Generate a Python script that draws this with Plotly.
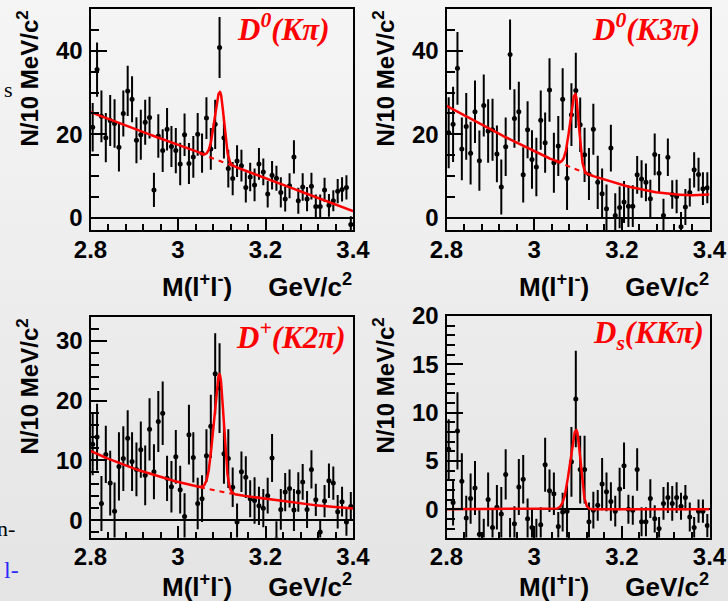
import base64
import numpy as np
import plotly.graph_objects as go

# ---------------- data (10 MeV bins, 2.8 - 3.4 GeV/c^2) ----------------
mass = [round(2.805 + 0.01 * i, 3) for i in range(60)]

n_kpi = [21.7, 35.5, 24.3, 19.2, 23.3, 22.6, 16.9, 25.0, 30.4, 28.4,
         18.6, 19.9, 22.9, 24.0, 6.7, 19.6, 16.1, 21.2, 17.1, 16.1,
         12.9, 19.9, 13.0, 14.6, 20.0, 15.5, 23.9, 16.5, 22.4, 40.8,
         19.2, 11.8, 9.4, 13.6, 12.5, 7.3, 9.8, 7.9, 12.9, 11.0,
         5.7, 10.2, 9.5, 6.1, 4.5, 7.7, 14.6, 4.1, 7.4, 4.5,
         7.6, 2.7, 2.7, 6.7, 3.0, 4.1, 6.4, 6.8, 7.3, -1.6]
e_kpi = [5.8, 6.5, 6.2, 5.9, 6.1, 5.8, 5.8, 5.5, 6.0, 5.5,
         5.5, 6.0, 5.4, 5.0, 4.1, 5.2, 5.1, 5.1, 4.9, 5.4,
         5.1, 5.1, 4.9, 5.0, 5.1, 4.7, 5.0, 5.0, 5.9, 7.3,
         5.0, 4.5, 4.0, 3.8, 3.8, 3.6, 3.4, 3.9, 3.8, 3.2,
         3.2, 3.4, 3.0, 3.6, 3.0, 3.0, 4.0, 3.1, 3.3, 2.9,
         3.2, 2.9, 2.9, 2.9, 2.7, 2.5, 2.9, 2.9, 2.9, 2.0]

n_k3pi = [20.4, 22.4, 35.8, 16.5, 21.9, 15.5, 25.4, 13.7, 26.9, 20.8,
          21.1, 15.3, 7.4, 17.0, 39.1, 23.8, 25.4, 10.3, 21.1, 14.0,
          12.2, 23.4, 18.0, 30.6, 13.2, 17.2, 28.4, 9.5, 24.7, 30.5,
          22.3, 15.1, 10.5, 21.2, 8.5, 5.8, 2.2, 16.7, 0.6, 2.5,
          3.8, 2.8, 2.8, 10.3, 9.3, 8.5, 4.6, 15.2, 10.7, 0.6,
          14.5, 5.6, 5.1, -2.1, 2.6, 6.1, 11.5, 10.4, 7.0, 7.2]
e_k3pi = [8.5, 9.0, 8.7, 7.5, 8.0, 7.5, 7.5, 7.2, 7.4, 7.6,
          7.4, 6.8, 6.6, 7.0, 8.4, 7.0, 7.2, 6.6, 6.8, 7.0,
          7.0, 7.1, 7.2, 7.6, 7.2, 7.2, 7.4, 7.6, 7.5, 9.0,
          6.5, 6.5, 6.2, 6.1, 6.4, 6.0, 5.8, 5.6, 5.3, 5.0,
          5.0, 5.0, 5.0, 4.5, 4.5, 4.5, 4.5, 5.0, 4.6, 4.0,
          4.5, 3.4, 4.0, 3.5, 4.3, 3.4, 4.2, 4.0, 3.9, 3.7]

n_k2pi = [12.7, 13.9, 2.8, 11.0, 6.2, 1.5, 9.0, 10.3, 13.7, 9.8,
          8.5, 11.8, 7.5, 15.2, 8.1, 16.5, 17.9, 7.0, 5.6, 10.6,
          5.1, 0.6, 14.3, 10.5, 2.8, 3.6, 10.8, 15.7, 24.5, 22.1,
          11.1, 10.3, 5.5, -0.3, 8.1, 7.2, 3.6, 3.3, 2.4, 2.0,
          4.1, 10.4, -3.2, 1.8, 4.7, 5.3, 1.7, 4.7, 6.4, 1.8,
          8.5, 3.4, -2.0, 3.2, 6.6, 6.2, 1.4, 3.1, -0.3, 2.3]
e_k2pi = [5.2, 5.6, 4.6, 4.8, 5.4, 4.8, 5.7, 5.4, 4.7, 4.9,
          4.5, 4.7, 5.0, 5.2, 4.6, 5.1, 5.3, 3.8, 4.3, 4.5,
          4.0, 3.9, 5.0, 4.2, 4.3, 3.9, 4.4, 5.3, 6.8, 7.5,
          5.0, 4.9, 3.3, 3.1, 3.4, 3.5, 3.1, 3.9, 3.2, 3.2,
          3.0, 4.0, 3.0, 3.4, 3.2, 3.2, 3.5, 3.3, 3.0, 3.1,
          3.2, 2.7, 2.0, 2.7, 2.9, 2.8, 2.8, 2.5, 2.3, 2.4]

n_kkpi = [6.2, 0.7, 8.1, 2.9, -0.9, 1.1, 2.2, -2.6, -3.3, 1.0,
          -1.9, 0.2, -0.5, 3.6, -3.3, -1.5, 2.3, 3.1, -1.0, -1.9,
          -3.2, -1.6, 4.6, 1.9, 1.6, -1.8, -0.3, -0.2, 4.9, 11.4,
          4.1, 4.1, -1.3, -0.1, 0.4, 2.6, 1.8, 0.8, -0.2, 2.1,
          4.5, 0.0, -0.1, 4.1, -1.3, -1.3, 1.1, -1.0, -2.0, 0.6,
          1.2, 0.6, 1.2, 0.3, 1.2, -0.8, -1.9, -0.2, -0.2, -1.7]
e_kkpi = [3.1, 2.4, 4.0, 2.9, 2.3, 2.6, 2.8, 2.5, 2.3, 2.8,
          2.0, 2.3, 2.8, 2.6, 2.4, 1.8, 2.9, 2.5, 2.1, 2.0,
          2.2, 1.8, 2.8, 2.2, 2.2, 1.5, 2.0, 2.9, 3.6, 5.0,
          3.5, 3.5, 2.0, 1.9, 1.6, 2.7, 2.0, 2.0, 1.6, 2.2,
          2.4, 1.5, 1.5, 2.2, 1.5, 1.5, 2.0, 1.4, 1.2, 1.7,
          1.6, 1.8, 1.6, 1.4, 1.3, 1.5, 1.1, 1.2, 1.2, 1.2]

# fit parameters: background polynomial in (m - 2.8) / exponential, J/psi peak
bkg_kpi = [25.3, -39.5]
bkg_k3pi = [26.8, -56.4, -2.0, 61.8]
bkg_k2pi_exp = [11.6, -2.98]
bkg_kkpi = [0.0]
# peak: amplitude, mean, sigma_left, sigma_right
peak_kpi = [16.5, 3.096, 0.012, 0.009]
peak_k3pi = [18.0, 3.094, 0.012, 0.008]
peak_k2pi = [19.6, 3.095, 0.013, 0.0095]
peak_kkpi = [8.2, 3.096, 0.014, 0.0095]

titles = ["D<sup>0</sup>(Kπ)", "D<sup>0</sup>(K3π)", "D<sup>+</sup>(K2π)", "D<sub>s</sub>(KKπ)"]
y_ranges = [[-2.9, 50], [-2.9, 50], [-2.9, 34], [-2.93, 20]]
y_dticks = [20, 20, 10, 5]
y_minor = [5, 5, 2, 1]

# ---------------- helpers ----------------
W, H = 728, 601
def px(x):
    return x / W
def py(y):
    return 1 - y / H

xf = np.linspace(2.8, 3.4, 1201)
t = xf - 2.8

def poly(c):
    return sum(ci * t ** i for i, ci in enumerate(c))

def peak(p):
    a, mu, sl, sr = p
    s = np.where(xf < mu, sl, sr)
    return a * np.exp(-0.5 * ((xf - mu) / s) ** 2)

bkgs = [poly(bkg_kpi), poly(bkg_k3pi),
        bkg_k2pi_exp[0] * np.exp(bkg_k2pi_exp[1] * t), poly(bkg_kkpi) + 0 * t]
peaks = [peak(peak_kpi), peak(peak_k3pi), peak(peak_k2pi), peak(peak_kkpi)]
data = [(n_kpi, e_kpi), (n_k3pi, e_k3pi), (n_k2pi, e_k2pi), (n_kkpi, e_kkpi)]

# panel frames in pixels (left, right, top, bottom)
frames = [(90.5, 353, 9, 230), (446.5, 709.5, 9, 230),
          (90.5, 353, 317, 537.5), (446.5, 709.5, 316, 537.5)]
title_right = [331, 702, 348, 706]
xtitle_y = [285.5, 285.5, 585.5, 585.5]

fig = go.Figure()
layout = {}
annotations = []
dash_mask = (xf >= 3.05) & (xf <= 3.125)

for k in range(4):
    ax = "" if k == 0 else str(k + 1)
    xa, ya = "x" + ax, "y" + ax
    l, r, tp, b = frames[k]
    vals, errs = data[k]
    fig.add_trace(go.Scatter(
        x=mass, y=vals, mode="markers", xaxis=xa, yaxis=ya,
        marker=dict(color="black", size=5),
        error_y=dict(type="data", array=errs, visible=True, color="black",
                     thickness=2, width=0),
        showlegend=False))
    total = bkgs[k] + peaks[k]
    fig.add_trace(go.Scatter(x=xf, y=total, mode="lines", xaxis=xa, yaxis=ya,
                             line=dict(color="red", width=2.5), showlegend=False))
    if k < 3:
        fig.add_trace(go.Scatter(x=xf[dash_mask], y=bkgs[k][dash_mask], mode="lines",
                                 xaxis=xa, yaxis=ya,
                                 line=dict(color="red", width=2, dash="5px,5px"),
                                 showlegend=False))
    layout["xaxis" + ax] = dict(
        domain=[px(l), px(r)], anchor=ya, range=[2.8, 3.4], automargin=False,
        tick0=2.8, dtick=0.2, ticks="inside", ticklen=12, tickwidth=1.5,
        tickcolor="black", showline=True, linecolor="black", linewidth=2,
        mirror=True, showgrid=False, zeroline=False,
        tickfont=dict(family="Liberation Sans", size=24, color="black", weight="bold"),
        ticklabelstandoff=-3,
        minor=dict(tick0=2.8, dtick=0.04, ticks="inside", ticklen=6,
                   tickcolor="black", tickwidth=1.5, showgrid=False))
    layout["yaxis" + ax] = dict(
        domain=[py(b), py(tp)], anchor=xa, range=y_ranges[k], automargin=False,
        tick0=0, dtick=y_dticks[k], ticks="inside", ticklen=16, tickwidth=1.5,
        tickcolor="black", showline=True, linecolor="black", linewidth=2,
        mirror=True, showgrid=False, zeroline=True, zerolinecolor="black",
        zerolinewidth=1.5,
        tickfont=dict(family="Liberation Sans", size=24, color="black", weight="bold"),
        ticklabelstandoff=1,
        minor=dict(tick0=0, dtick=y_minor[k], ticks="inside", ticklen=8,
                   tickcolor="black", tickwidth=1.5, showgrid=False))
    # panel title
    annotations.append(dict(
        text="<b><i>" + titles[k] + "</i></b>", xref="paper", yref="paper",
        x=px(title_right[k]), y=py(tp + 19), xanchor="right",
        yanchor="middle", showarrow=False,
        font=dict(family="Liberation Serif", size=31, color="red")))
    # x title
    annotations.append(dict(
        text="<b>M(l<sup>+</sup>l<sup>-</sup>)\u00a0\u00a0\u00a0\u00a0\u00a0GeV/c<sup>2</sup></b>",
        xref="paper", yref="paper", x=px(r + 1), y=py(xtitle_y[k]), xanchor="right",
        yanchor="middle", showarrow=False,
        font=dict(family="Liberation Sans", size=26, color="black")))
    # y title
    annotations.append(dict(
        text="<b>N/10 MeV/c<sup>2</sup></b>", xref="paper", yref="paper",
        x=px(l - 63), y=py(tp + 70), xanchor="center", yanchor="middle",
        textangle=-90, showarrow=False,
        font=dict(family="Liberation Sans", size=24, color="black")))

# stray slide text at the left edge
annotations.append(dict(text="s", xref="paper", yref="paper", x=px(2), y=py(90),
                        xanchor="left", yanchor="middle", showarrow=False,
                        font=dict(family="Liberation Serif", size=22, color="black")))
annotations.append(dict(text="n-", xref="paper", yref="paper", x=px(-5), y=py(528),
                        xanchor="left", yanchor="middle", showarrow=False,
                        font=dict(family="Liberation Serif", size=22, color="black")))
annotations.append(dict(text="l-", xref="paper", yref="paper", x=px(2), y=py(570),
                        xanchor="left", yanchor="middle", showarrow=False,
                        font=dict(family="Liberation Serif", size=24, color="#2b2bff")))

svg = ('<svg xmlns="http://www.w3.org/2000/svg" width="728" height="601">'
       '<defs><linearGradient id="g" x1="0" y1="0" x2="0" y2="1">'
       '<stop offset="0" stop-color="#f5f5f5"/><stop offset="1" stop-color="#e4e4e4"/>'
       '</linearGradient></defs><rect width="728" height="601" fill="url(#g)"/></svg>')
bg_src = "data:image/svg+xml;base64," + base64.b64encode(svg.encode()).decode()

fig.update_layout(
    width=W, height=H, margin=dict(l=0, r=0, t=0, b=0, pad=0, autoexpand=False),
    paper_bgcolor="#ececec", plot_bgcolor="rgba(0,0,0,0)",
    annotations=annotations,
    images=[dict(source=bg_src, xref="paper", yref="paper", x=0, y=1,
                 sizex=1, sizey=1, sizing="stretch", layer="below",
                 xanchor="left", yanchor="top")],
    **layout)

fig.write_html(
    "out.html",
    config={"displayModeBar": False},
    post_script="document.body.style.margin='0';document.body.style.padding='0';"
                "document.documentElement.style.overflow='hidden';"
                "document.body.style.overflow='hidden';")
